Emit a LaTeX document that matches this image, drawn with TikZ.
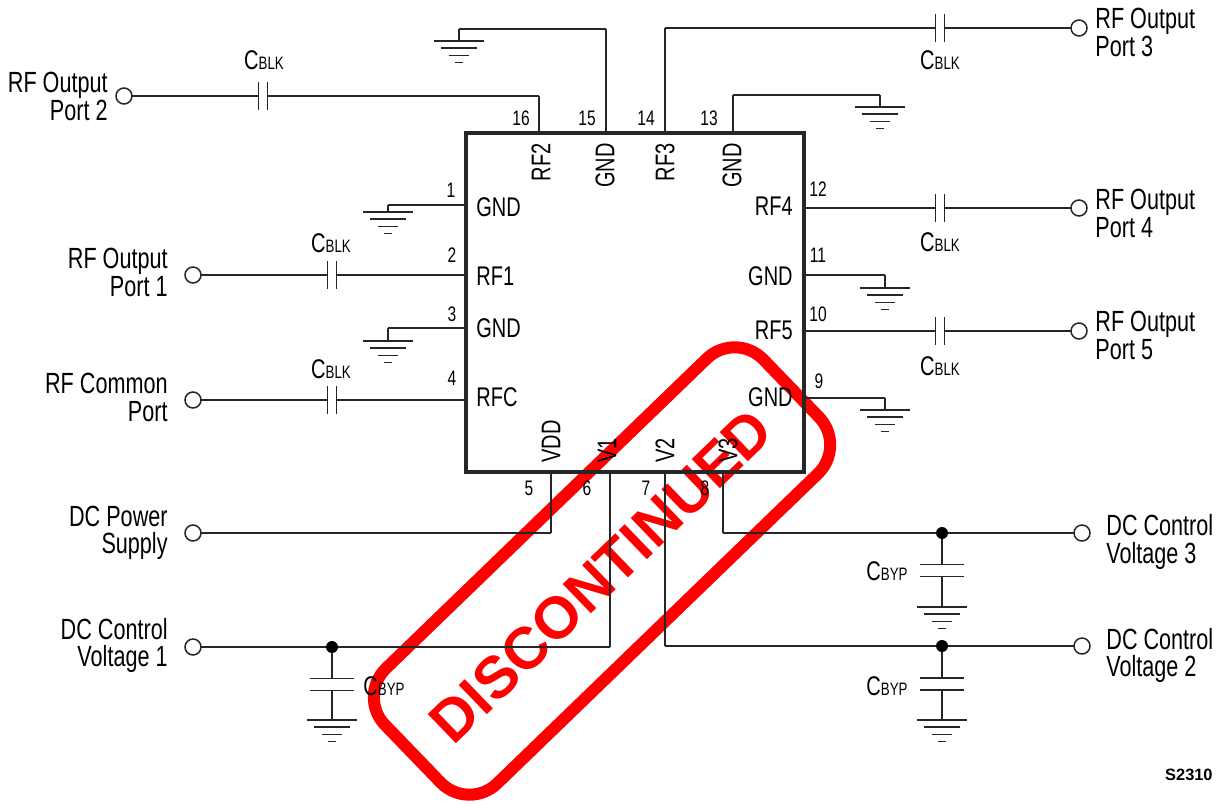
\documentclass[tikz,border=0pt]{standalone}
\usepackage{tikz}
\usepackage{tkz-graph}
\usepackage{xcolor}
\usepackage{fontspec}
\setmainfont{Liberation Sans}[FakeStretch=0.74]
\newfontfamily\stampfont{Liberation Sans}

\tikzset{
	wire/.style={line width=0.75pt,color=black!85},
	portlabel/.style={inner sep=0pt,font=\fontsize{14.6}{13.75}\selectfont},
	pinname/.style={inner sep=0pt,font=\fontsize{13.5}{14}\selectfont},
	pinnum/.style={inner sep=0pt,font=\fontsize{10.5}{12}\selectfont},
	partname/.style={inner sep=0pt,font=\fontsize{13.5}{14}\selectfont},
	junction/.style={circle,fill=black,inner sep=0pt,minimum size=6pt},
	capseries/.style={inner sep=0pt,minimum width=4pt,minimum height=13.5pt,
		append after command={
			(\tikzlastnode.north west) edge[wire] (\tikzlastnode.south west)
			(\tikzlastnode.north east) edge[wire] (\tikzlastnode.south east)}},
	capshunt/.style={inner sep=0pt,minimum width=22pt,minimum height=5.5pt,
		append after command={
			(\tikzlastnode.north west) edge[wire] (\tikzlastnode.north east)
			(\tikzlastnode.south west) edge[wire] (\tikzlastnode.south east)}},
	ground/.style={inner sep=0pt,anchor=north,minimum width=24.5pt,minimum height=11pt,
		append after command={
			(\tikzlastnode.north west) edge[wire] (\tikzlastnode.north east)
			([xshift=3.5pt,yshift=-3.6pt]\tikzlastnode.north west) edge[wire] ([xshift=-3.5pt,yshift=-3.6pt]\tikzlastnode.north east)
			([xshift=7.25pt,yshift=-7.2pt]\tikzlastnode.north west) edge[wire] ([xshift=-7.25pt,yshift=-7.2pt]\tikzlastnode.north east)
			([xshift=10.5pt,yshift=-10.8pt]\tikzlastnode.north west) edge[wire] ([xshift=-10.5pt,yshift=-10.8pt]\tikzlastnode.north east)}}
}

\begin{document}
\begin{tikzpicture}[x=0.5pt,y=-0.5pt]
	\useasboundingbox (0,0) rectangle (1225,803);
	\SetVertexNormal[
	Shape 		= circle,
	LineWidth 	= 0.75pt,
	LineColor 	= black!85,
	FillColor 	= white,
	MinSize 	= 8pt,
	InnerSep 	= 0pt,
	OuterSep 	= 0pt]
	\SetVertexNoLabel
	\SetUpEdge[
	lw 		= 0.75pt,
	color 	= black!85]
	
	% stamp goes under the circuit
	\node[draw=red,line width=6pt,rounded corners=20pt,rotate=44,minimum width=263pt,minimum height=80pt] (stamp) at (602,571) {};
	\node[text=red,inner sep=0pt,rotate=44,font=\fontsize{29.5}{30}\stampfont\bfseries] (stamptext) at (601,576) {DISCONTINUED};
	
	% package
	\node[draw=black!85,line width=1.6pt,inner sep=0pt,minimum width=169pt,minimum height=169.5pt] (ic) at (635,302.5) {};
	
	% pins
	\coordinate (1) at (466,205);
	\coordinate (2) at (466,275);
	\coordinate (3) at (466,328);
	\coordinate (4) at (466,400);
	\coordinate (5) at (551,472);
	\coordinate (6) at (610,472);
	\coordinate (7) at (665,472);
	\coordinate (8) at (723,472);
	\coordinate (9) at (804,398);
	\coordinate (10) at (804,331);
	\coordinate (11) at (804,275);
	\coordinate (12) at (804,208);
	\coordinate (13) at (733,133);
	\coordinate (14) at (665,133);
	\coordinate (15) at (606,133);
	\coordinate (16) at (539,133);
	
	% corners
	\coordinate (c1) at (388,205);
	\coordinate (c3) at (388,328);
	\coordinate (c5) at (551,533);
	\coordinate (c6) at (610,647);
	\coordinate (c7) at (665,646);
	\coordinate (c8) at (723,533);
	\coordinate (c9) at (885,398);
	\coordinate (c11) at (885,275);
	\coordinate (c13a) at (733,95);
	\coordinate (c13b) at (880,95);
	\coordinate (c14) at (665,28);
	\coordinate (c15a) at (606,29);
	\coordinate (c15b) at (459,29);
	\coordinate (c16) at (539,96);
	
	% terminals
	\Vertex[x=124,y=96]{t2}
	\Vertex[x=193,y=275]{t1}
	\Vertex[x=193,y=400]{tc}
	\Vertex[x=193,y=533]{tp}
	\Vertex[x=193,y=647]{v1}
	\Vertex[x=1079,y=28]{t3}
	\Vertex[x=1079,y=208]{t4}
	\Vertex[x=1079,y=331]{t5}
	\Vertex[x=1082,y=533]{v3}
	\Vertex[x=1082,y=646]{v2}
	
	% capacitors
	\node[capseries] (cb2) at (263,96) {};
	\node[capseries] (cb1) at (332,275) {};
	\node[capseries] (cbc) at (332,400) {};
	\node[capseries] (cb3) at (940,28) {};
	\node[capseries] (cb4) at (940,208) {};
	\node[capseries] (cb5) at (940,331) {};
	\node[capshunt] (cy1) at (332,684.5) {};
	\node[capshunt] (cy3) at (942,570.5) {};
	\node[capshunt] (cy2) at (942,684) {};
	
	% junctions
	\node[junction] (j1) at (332,647) {};
	\node[junction] (j3) at (942,533) {};
	\node[junction] (j2) at (942,646) {};
	
	% grounds
	\node[ground] (g1) at (388,212) {};
	\node[ground] (g3) at (388,341) {};
	\node[ground] (g9) at (885,410) {};
	\node[ground] (g11) at (885,288) {};
	\node[ground] (g13) at (880,107) {};
	\node[ground] (g15) at (459,41) {};
	\node[ground] (gy1) at (332,720) {};
	\node[ground] (gy3) at (942,607) {};
	\node[ground] (gy2) at (942,720) {};
	
	\Edges(1,c1,g1.north)
	\Edges(2,cb1,t1)
	\Edges(3,c3,g3.north)
	\Edges(4,cbc,tc)
	\Edges(5,c5,tp)
	\Edges(6,c6,j1,v1)
	\Edges(7,c7,j2,v2)
	\Edges(8,c8,j3,v3)
	\Edges(9,c9,g9.north)
	\Edges(10,cb5,t5)
	\Edges(11,c11,g11.north)
	\Edges(12,cb4,t4)
	\Edges(13,c13a,c13b,g13.north)
	\Edges(14,c14,cb3,t3)
	\Edges(15,c15a,c15b,g15.north)
	\Edges(16,c16,cb2,t2)
	
	\Edges(j1,cy1.north)
	\Edges(cy1.south,gy1.north)
	\Edges(j3,cy3.north)
	\Edges(cy3.south,gy3.north)
	\Edges(j2,cy2.north)
	\Edges(cy2.south,gy2.north)
	
	% port labels
	\node[portlabel,align=right,anchor=east] (l2) at (108,96.5) {RF Output\\Port 2};
	\node[portlabel,align=right,anchor=east] (l1) at (168,272.5) {RF Output\\Port 1};
	\node[portlabel,align=right,anchor=east] (lc) at (168,397.5) {RF Common\\Port};
	\node[portlabel,align=right,anchor=east] (lp) at (168,533) {DC Power\\Supply};
	\node[portlabel,align=right,anchor=east] (lv1) at (168,645.5) {DC Control\\Voltage 1};
	\node[portlabel,align=left,anchor=west] (l3) at (1095,32.5) {RF Output\\Port 3};
	\node[portlabel,align=left,anchor=west] (l4) at (1095,213.5) {RF Output\\Port 4};
	\node[portlabel,align=left,anchor=west] (l5) at (1095,335.5) {RF Output\\Port 5};
	\node[portlabel,align=left,anchor=west] (lv3) at (1106,542) {DC Control\\Voltage 3};
	\node[portlabel,align=left,anchor=west] (lv2) at (1106,655.5) {DC Control\\Voltage 2};
	
	% pin names
	\node[pinname,anchor=west] (n1) at (476,207) {GND};
	\node[pinname,anchor=west] (n2) at (476,276) {RF1};
	\node[pinname,anchor=west] (n3) at (476,328) {GND};
	\node[pinname,anchor=west] (n4) at (476,397) {RFC};
	\node[pinname,anchor=east] (n9) at (793,397) {GND};
	\node[pinname,anchor=east] (n10) at (793,330) {RF5};
	\node[pinname,anchor=east] (n11) at (793,276) {GND};
	\node[pinname,anchor=east] (n12) at (793,206) {RF4};
	\node[pinname,rotate=90,anchor=east] (n13) at (732,143) {GND};
	\node[pinname,rotate=90,anchor=east] (n14) at (665,143) {RF3};
	\node[pinname,rotate=90,anchor=east] (n15) at (605,143) {GND};
	\node[pinname,rotate=90,anchor=east] (n16) at (541,143) {RF2};
	\node[pinname,rotate=90,anchor=west] (n5) at (551,463) {VDD};
	\node[pinname,rotate=90,anchor=west] (n6) at (607,463) {V1};
	\node[pinname,rotate=90,anchor=west] (n7) at (665,463) {V2};
	\node[pinname,rotate=90,anchor=west] (n8) at (728,463) {V3};
	
	% pin numbers
	\node[pinnum] (m1) at (451,190) {1};
	\node[pinnum] (m2) at (452,255) {2};
	\node[pinnum] (m3) at (452,314) {3};
	\node[pinnum] (m4) at (452,378) {4};
	\node[pinnum] (m5) at (529,488) {5};
	\node[pinnum] (m6) at (587,488) {6};
	\node[pinnum] (m7) at (646,488) {7};
	\node[pinnum] (m8) at (705,488) {8};
	\node[pinnum] (m9) at (819,381) {9};
	\node[pinnum] (m10) at (818,314) {10};
	\node[pinnum] (m11) at (818,255) {11};
	\node[pinnum] (m12) at (818,189) {12};
	\node[pinnum] (m13) at (709,118) {13};
	\node[pinnum] (m14) at (646,118) {14};
	\node[pinnum] (m15) at (587,118) {15};
	\node[pinnum] (m16) at (521,118) {16};
	
	% part names
	\node[partname] (pb2) at (264,60) {C{\small BLK}};
	\node[partname] (pb1) at (331,243) {C{\small BLK}};
	\node[partname] (pbc) at (331,369) {C{\small BLK}};
	\node[partname] (pb3) at (940,60) {C{\small BLK}};
	\node[partname] (pb4) at (940,242) {C{\small BLK}};
	\node[partname] (pb5) at (940,366) {C{\small BLK}};
	\node[partname] (py3) at (887,571) {C{\small BYP}};
	\node[partname] (py2) at (887,686) {C{\small BYP}};
	\node[partname] (py1) at (384,686) {C{\small BYP}};
	
	\node[inner sep=0pt,anchor=east,font=\fontsize{8.2}{10}\stampfont\bfseries] (code) at (1213,775) {S2310};
	
\end{tikzpicture}
\end{document}
